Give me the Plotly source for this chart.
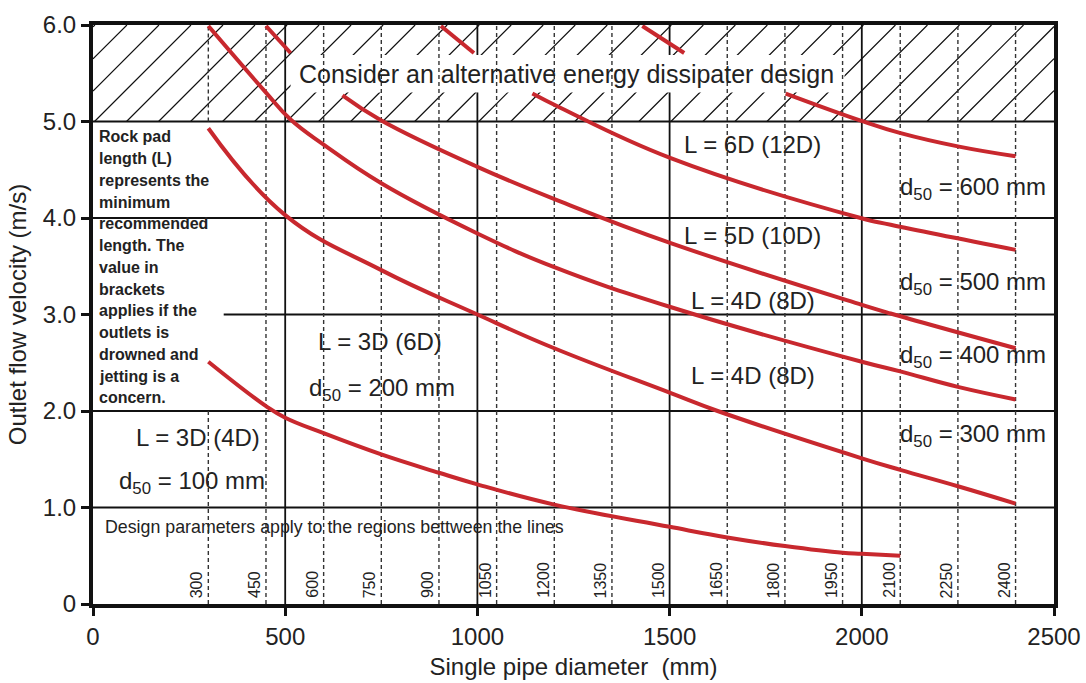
import plotly.graph_objects as go

# ---------------- data ----------------
x_tickvals = [0, 500, 1000, 1500, 2000, 2500]
y_tickvals = [0, 1, 2, 3, 4, 5, 6]
y_ticktext = ["0", "1.0", "2.0", "3.0", "4.0", "5.0", "6.0"]
pipe_sizes = [300, 450, 600, 750, 900, 1050, 1200, 1350, 1500, 1650, 1800, 1950, 2100, 2250, 2400]
major_x = [500, 1000, 1500, 2000]
major_y = [1, 2, 4, 5]

# boundary curves (pipe diameter mm, velocity m/s); None = break behind caption
c1_x = [300, 450, 500, 600, 750, 900, 1000, 1200, 1500, 1650, 1800, 1950, 2000, 2100]
c1_y = [2.51, 2.05, 1.93, 1.77, 1.55, 1.36, 1.24, 1.03, 0.80, 0.69, 0.60, 0.53, 0.52, 0.50]

c2_x = [300, 500, 750, 1000, 1200, 1500, 1625, 2000, 2100, 2250, 2400]
c2_y = [4.93, 4.03, 3.46, 3.00, 2.65, 2.19, 2.00, 1.51, 1.39, 1.22, 1.04]

c3_x = [300, 450, 514, 600, 750, 1000, 1200, 1500, 2000, 2100, 2250, 2400]
c3_y = [5.99, 5.30, 5.02, 4.76, 4.36, 3.84, 3.49, 3.08, 2.51, 2.41, 2.25, 2.12]

c4_x = [450, 514, None, 649, 750, 1000, 1217, 1503, 2000, 2075, 2400]
c4_y = [5.99, 5.71, None, 5.27, 5.01, 4.53, 4.17, 3.74, 3.10, 3.01, 2.65]

c5_x = [905, 991, None, 1143, 1217, 1503, 1997, 2075, 2400]
c5_y = [5.99, 5.71, None, 5.29, 5.14, 4.62, 4.00, 3.93, 3.67]

c6_x = [1429, 1538, None, 1802, 1997, 2101, 2253, 2400]
c6_y = [5.99, 5.71, None, 5.29, 5.01, 4.88, 4.74, 4.64]

curves = [(c1_x, c1_y), (c2_x, c2_y), (c3_x, c3_y), (c4_x, c4_y), (c5_x, c5_y), (c6_x, c6_y)]

note_lines = ["Rock pad", "length (L)", "represents the", "minimum", "recommended",
              "length. The", "value in", "brackets", "applies if the", "outlets is",
              "drowned and", "jetting is a", "concern."]

region_labels = [
    ("L = 3D (4D)", 273, 1.73),
    ("d<sub>50</sub> = 100 mm", 257, 1.26),
    ("L = 3D (6D)", 746, 2.72),
    ("d<sub>50</sub> = 200 mm", 753, 2.22),
    ("L = 6D (12D)", 1715, 4.76),
    ("L = 5D (10D)", 1715, 3.82),
    ("L = 4D (8D)", 1717, 3.15),
    ("L = 4D (8D)", 1717, 2.37),
    ("d<sub>50</sub> = 600 mm", 2289, 4.31),
    ("d<sub>50</sub> = 500 mm", 2289, 3.32),
    ("d<sub>50</sub> = 400 mm", 2289, 2.56),
    ("d<sub>50</sub> = 300 mm", 2289, 1.75),
]

FONT = "Liberation Sans, Arial, sans-serif"
RED = "#c8282e"
TXT = "#222222"

fig = go.Figure()

for cx, cy in curves:
    fig.add_trace(go.Scatter(x=cx, y=cy, mode="lines", connectgaps=False,
                             line=dict(color=RED, width=4, shape="spline", smoothing=1.2),
                             hoverinfo="skip", showlegend=False))

shapes = []
# hatch in the 5-6 m/s band
run, step = 251.0, 83.3
parts = []
xb = 5.0 - run
while xb < 2500:
    x0, y0, x1, y1 = xb, 5.0, xb + run, 6.0
    if x0 < 0:
        y0 = 5.0 + (-x0) / run
        x0 = 0.0
    if x1 > 2500:
        y1 = 5.0 + (2500 - xb) / run
        x1 = 2500.0
    parts.append(f"M{x0:.2f},{y0:.4f} L{x1:.2f},{y1:.4f}")
    xb += step
shapes.append(dict(type="path", path=" ".join(parts), xref="x", yref="y",
                   line=dict(color="#111", width=1.2), layer="below"))

for yv in major_y:
    shapes.append(dict(type="line", xref="x", yref="y", x0=0, x1=2500, y0=yv, y1=yv,
                       line=dict(color="#111", width=1.8), layer="below"))
shapes.append(dict(type="line", xref="x", yref="y", x0=340, x1=2500, y0=3, y1=3,
                   line=dict(color="#111", width=1.8), layer="below"))
for xv in major_x:
    shapes.append(dict(type="line", xref="x", yref="y", x0=xv, x1=xv, y0=0, y1=6,
                       line=dict(color="#111", width=1.8), layer="below"))

# white band behind the caption
shapes.append(dict(type="rect", xref="x", yref="y", x0=514, x1=1955, y0=5.30, y1=5.69,
                   fillcolor="white", line=dict(width=0), layer="below"))

dash = dict(color="#333", width=1.4, dash="4px,3px")
for xv in pipe_sizes:
    if xv in major_x:
        continue
    if xv == 300:
        shapes.append(dict(type="line", xref="x", yref="y", x0=xv, x1=xv, y0=0, y1=2,
                           line=dash, layer="below"))
        shapes.append(dict(type="line", xref="x", yref="y", x0=xv, x1=xv, y0=5, y1=6,
                           line=dash, layer="below"))
    else:
        shapes.append(dict(type="line", xref="x", yref="y", x0=xv, x1=xv, y0=0, y1=6,
                           line=dash, layer="below"))

annotations = []
annotations.append(dict(text="Consider an alternative energy dissipater design", x=1232, y=5.49,
                        xref="x", yref="y", showarrow=False,
                        font=dict(family=FONT, size=25, color=TXT)))
for i, line in enumerate(note_lines):
    annotations.append(dict(text=line, x=0, y=4.84 - i * 0.2253, xref="x", yref="y",
                            xanchor="left", yanchor="middle", xshift=4, showarrow=False,
                            font=dict(family=FONT, size=16, color=TXT, weight="bold")))
annotations.append(dict(text="Design parameters apply to the regions bettween the lines",
                        x=0, y=0.80, xref="x", yref="y", xanchor="left", yanchor="middle",
                        xshift=10, showarrow=False, font=dict(family=FONT, size=17.8, color=TXT)))
for txt, xv, yv in region_labels:
    annotations.append(dict(text=txt, x=xv, y=yv, xref="x", yref="y", showarrow=False,
                            font=dict(family=FONT, size=24, color=TXT)))
for xv in pipe_sizes:
    annotations.append(dict(text=str(xv), x=xv, y=0, xref="x", yref="y", textangle=-90,
                            xanchor="right", yanchor="bottom", xshift=-1, yshift=4,
                            showarrow=False, font=dict(family=FONT, size=16, color=TXT)))

fig.update_layout(
    width=1086, height=683,
    margin=dict(l=93, r=32, t=25, b=79, autoexpand=False),
    paper_bgcolor="white", plot_bgcolor="white",
    showlegend=False,
    shapes=shapes, annotations=annotations,
    font=dict(family=FONT, color=TXT),
)
fig.update_xaxes(range=[0, 2500], tickvals=x_tickvals, ticktext=[str(v) for v in x_tickvals],
                 automargin=False,
                 showgrid=False, zeroline=False, showline=True, linewidth=4, linecolor="#111",
                 mirror=True, ticks="outside", ticklen=8, tickwidth=3, tickcolor="#111",
                 tickfont=dict(family=FONT, size=24, color=TXT),
                 title=dict(text="Single pipe diameter\u00a0 (mm)", standoff=10,
                            font=dict(family=FONT, size=24, color=TXT)))
fig.update_yaxes(range=[0, 6], tickvals=y_tickvals, ticktext=y_ticktext,
                 automargin=False,
                 showgrid=False, zeroline=False, showline=True, linewidth=4, linecolor="#111",
                 mirror=True, ticks="outside", ticklen=8, tickwidth=3, tickcolor="#111",
                 tickfont=dict(family=FONT, size=24, color=TXT),
                 title=dict(text="Outlet flow velocity (m/s)", standoff=10,
                            font=dict(family=FONT, size=24, color=TXT)))

fig.write_html("out.html", config={"displayModeBar": False},
               post_script="document.body.style.margin='0';document.body.style.overflow='hidden';")
